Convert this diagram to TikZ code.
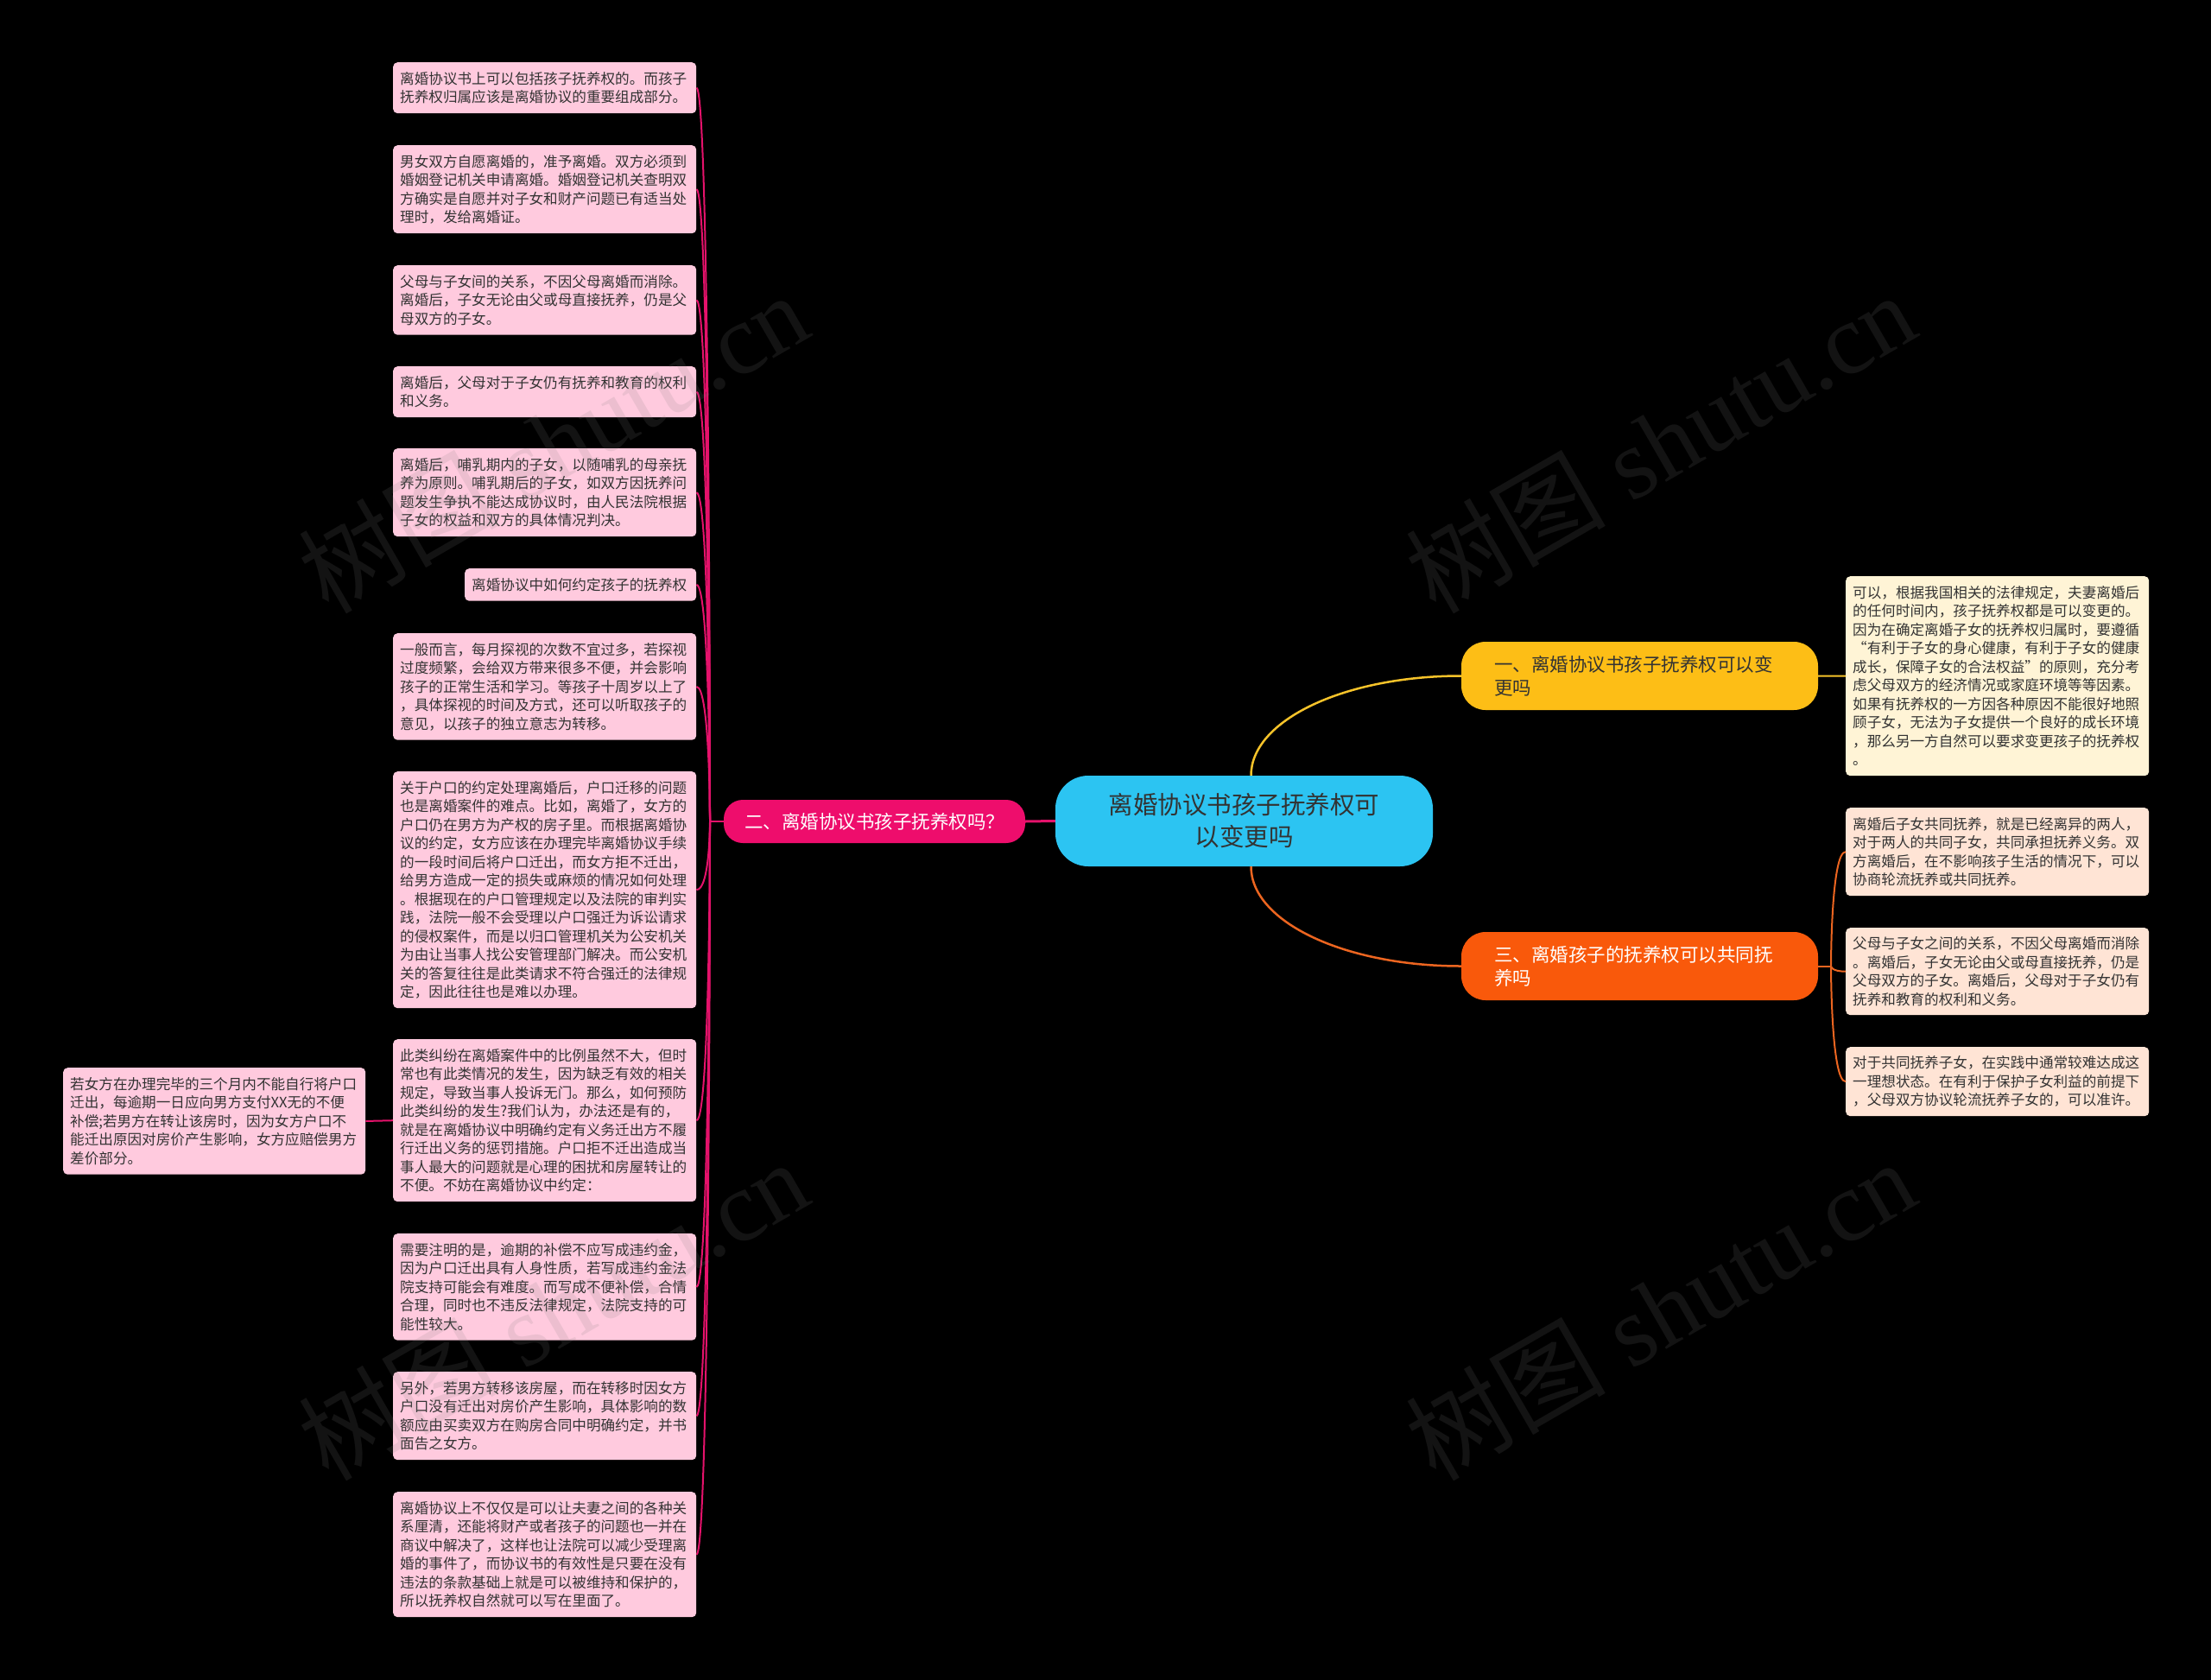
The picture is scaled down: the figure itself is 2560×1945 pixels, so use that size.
\documentclass[tikz,border=0pt]{standalone}
\usepackage{fontspec}
\setmainfont{Noto Sans CJK SC}
\newfontfamily\wmserif{Liberation Serif}
\usetikzlibrary{calc}
\definecolor{cyanfill}{HTML}{2CC4F2}
\definecolor{yellowfill}{HTML}{FDBE16}
\definecolor{pinkmain}{HTML}{EE0D6C}
\definecolor{orangefill}{HTML}{F9590B}
\definecolor{yline}{HTML}{F6C32A}
\definecolor{oline}{HTML}{EC6520}
\definecolor{pline}{HTML}{E5126B}
\definecolor{pinkbox}{HTML}{FFCADE}
\definecolor{creambox}{HTML}{FFF4D6}
\definecolor{peachbox}{HTML}{FFE4D5}
\definecolor{leaftext}{HTML}{333333}
\definecolor{wmgray}{HTML}{808080}
\tikzset{
  leaf/.style={anchor=north west, rounded corners=5pt, inner xsep=8pt, inner ysep=0pt,
    text width=335pt, align=left, font=\fontsize{16.6}{21.5}\selectfont, text=leaftext},
  pinkleaf/.style={leaf, fill=pinkbox},
  creamleaf/.style={leaf, fill=creambox},
  peachleaf/.style={leaf, fill=peachbox},
  branch/.style={rounded corners=28pt, inner xsep=38pt, inner ysep=0pt, text width=337pt,
    minimum height=79pt, align=left, font=\fontsize{21.5}{27}\selectfont},
  central/.style={fill=cyanfill, rounded corners=38pt, minimum width=437pt, minimum height=105pt,
    align=center, font=\fontsize{28.5}{37}\selectfont, text=leaftext},
  pl/.style={draw=pline, line width=2pt},
  ol/.style={draw=oline, line width=2pt},
  yl/.style={draw=yline, line width=2pt},
  wm/.style={rotate=30, text=wmgray, text opacity=0.15, font=\fontsize{116}{126}\selectfont, inner sep=0pt}
}
\begin{document}
\begin{tikzpicture}[x=1pt,y=-1pt]
\fill[black] (0,0) rectangle (2560,1945);
\useasboundingbox (0,0) rectangle (2560,1945);

% central and branch nodes
\node[central] (c) at (1440.5,950.5) {离婚协议书孩子抚养权可\\以变更吗};
\node[branch, fill=yellowfill, text=leaftext] (y) at (1898.5,782.5) {一、离婚协议书孩子抚养权可以变\\更吗};
\node[branch, fill=orangefill, text=white] (o) at (1898.5,1118.5) {三、离婚孩子的抚养权可以共同抚\\养吗};
\node[fill=pinkmain, text=white, rounded corners=22pt, minimum width=349pt, minimum height=50pt,
  inner sep=0pt, align=center, font=\fontsize{21.5}{27}\selectfont] (pk) at (1012.5,951) {二、离婚协议书孩子抚养权吗？};

% left leaves
\node[pinkleaf, minimum height=59pt] (b1) at (455,72) {离婚协议书上可以包括孩子抚养权的。而孩子\\抚养权归属应该是离婚协议的重要组成部分。};
\node[pinkleaf, minimum height=102pt] (b2) at (455,168) {男女双方自愿离婚的，准予离婚。双方必须到\\婚姻登记机关申请离婚。婚姻登记机关查明双\\方确实是自愿并对子女和财产问题已有适当处\\理时，发给离婚证。};
\node[pinkleaf, minimum height=80.5pt] (b3) at (455,307) {父母与子女间的关系，不因父母离婚而消除。\\离婚后，子女无论由父或母直接抚养，仍是父\\母双方的子女。};
\node[pinkleaf, minimum height=59pt] (b4) at (455,424) {离婚后，父母对于子女仍有抚养和教育的权利\\和义务。};
\node[pinkleaf, minimum height=102pt] (b5) at (455,519) {离婚后，哺乳期内的子女，以随哺乳的母亲抚\\养为原则。哺乳期后的子女，如双方因抚养问\\题发生争执不能达成协议时，由人民法院根据\\子女的权益和双方的具体情况判决。};
\node[pinkleaf, minimum height=37.5pt, text width=252pt] (b6) at (538,658) {离婚协议中如何约定孩子的抚养权};
\node[pinkleaf, minimum height=123.5pt] (b7) at (455,733) {一般而言，每月探视的次数不宜过多，若探视\\过度频繁，会给双方带来很多不便，并会影响\\孩子的正常生活和学习。等孩子十周岁以上了\\，具体探视的时间及方式，还可以听取孩子的\\意见，以孩子的独立意志为转移。};
\node[pinkleaf, minimum height=274pt] (b8) at (455,893) {关于户口的约定处理离婚后，户口迁移的问题\\也是离婚案件的难点。比如，离婚了，女方的\\户口仍在男方为产权的房子里。而根据离婚协\\议的约定，女方应该在办理完毕离婚协议手续\\的一段时间后将户口迁出，而女方拒不迁出，\\给男方造成一定的损失或麻烦的情况如何处理\\。根据现在的户口管理规定以及法院的审判实\\践，法院一般不会受理以户口强迁为诉讼请求\\的侵权案件，而是以归口管理机关为公安机关\\为由让当事人找公安管理部门解决。而公安机\\关的答复往往是此类请求不符合强迁的法律规\\定，因此往往也是难以办理。};
\node[pinkleaf, minimum height=188pt] (b9) at (455,1203) {此类纠纷在离婚案件中的比例虽然不大，但时\\常也有此类情况的发生，因为缺乏有效的相关\\规定，导致当事人投诉无门。那么，如何预防\\此类纠纷的发生?我们认为，办法还是有的，\\就是在离婚协议中明确约定有义务迁出方不履\\行迁出义务的惩罚措施。户口拒不迁出造成当\\事人最大的问题就是心理的困扰和房屋转让的\\不便。不妨在离婚协议中约定：};
\node[pinkleaf, minimum height=123.5pt] (b10) at (455,1428) {需要注明的是，逾期的补偿不应写成违约金，\\因为户口迁出具有人身性质，若写成违约金法\\院支持可能会有难度。而写成不便补偿，合情\\合理，同时也不违反法律规定，法院支持的可\\能性较大。};
\node[pinkleaf, minimum height=102pt] (b11) at (455,1588) {另外，若男方转移该房屋，而在转移时因女方\\户口没有迁出对房价产生影响，具体影响的数\\额应由买卖双方在购房合同中明确约定，并书\\面告之女方。};
\node[pinkleaf, minimum height=145pt] (b12) at (455,1727) {离婚协议上不仅仅是可以让夫妻之间的各种关\\系厘清，还能将财产或者孩子的问题也一并在\\商议中解决了，这样也让法院可以减少受理离\\婚的事件了，而协议书的有效性是只要在没有\\违法的条款基础上就是可以被维持和保护的，\\所以抚养权自然就可以写在里面了。};
\node[pinkleaf, minimum height=123.5pt, text width=334pt] (far) at (73,1236) {若女方在办理完毕的三个月内不能自行将户口\\迁出，每逾期一日应向男方支付XX无的不便\\补偿;若男方在转让该房时，因为女方户口不\\能迁出原因对房价产生影响，女方应赔偿男方\\差价部分。};

% right leaves
\node[creamleaf, minimum height=231pt] (yb) at (2137,667) {可以，根据我国相关的法律规定，夫妻离婚后\\的任何时间内，孩子抚养权都是可以变更的。\\因为在确定离婚子女的抚养权归属时，要遵循\\“有利于子女的身心健康，有利于子女的健康\\成长，保障子女的合法权益”的原则，充分考\\虑父母双方的经济情况或家庭环境等等因素。\\如果有抚养权的一方因各种原因不能很好地照\\顾子女，无法为子女提供一个良好的成长环境\\，那么另一方自然可以要求变更孩子的抚养权\\。};
\node[peachleaf, minimum height=102pt] (r1) at (2137,935) {离婚后子女共同抚养，就是已经离异的两人，\\对于两人的共同子女，共同承担抚养义务。双\\方离婚后，在不影响孩子生活的情况下，可以\\协商轮流抚养或共同抚养。};
\node[peachleaf, minimum height=101pt] (r2) at (2137,1074) {父母与子女之间的关系，不因父母离婚而消除\\。离婚后，子女无论由父或母直接抚养，仍是\\父母双方的子女。离婚后，父母对于子女仍有\\抚养和教育的权利和义务。};
\node[peachleaf, minimum height=80pt] (r3) at (2137,1212) {对于共同抚养子女，在实践中通常较难达成这\\一理想状态。在有利于保护子女利益的前提下\\，父母双方协议轮流抚养子女的，可以准许。};

% connectors
\draw[yl, line width=2.5pt] ([xshift=8pt]c.north) .. controls +(0,-64) and +(-135,0) .. (y.west);
\draw[ol, line width=2.5pt] ([xshift=8pt]c.south) .. controls +(0,64) and +(-135,0) .. (o.west);
\draw[pl, line width=3pt] (c.west) -- (pk.east);
\draw[yl] (y.east) -- (yb.west);

\coordinate (oj) at (2120,1118.5);
\draw[ol] (o.east) -- (oj);
\foreach \b in {r1,r2,r3}
  \draw[ol] (oj) .. controls (oj) and (oj |- \b.west) .. (\b.west);

\coordinate (pj) at (822,951);
\draw[pl] (pk.west) -- (pj);
\foreach \b in {b1,b2,b3,b4,b5,b6,b7,b8,b9,b10,b11,b12}
  \draw[pl] (pj) .. controls (pj) and (pj |- \b.east) .. (\b.east);
\draw[pl] (b9.west) -- (far.east);

% watermarks
\node[wm] (wm1) at (640,512) {树图{\wmserif\ shutu.cn}};
\node[wm] (wm2) at (1922,512) {树图{\wmserif\ shutu.cn}};
\node[wm] (wm3) at (640,1516) {树图{\wmserif\ shutu.cn}};
\node[wm] (wm4) at (1922,1516) {树图{\wmserif\ shutu.cn}};
\end{tikzpicture}
\end{document}
